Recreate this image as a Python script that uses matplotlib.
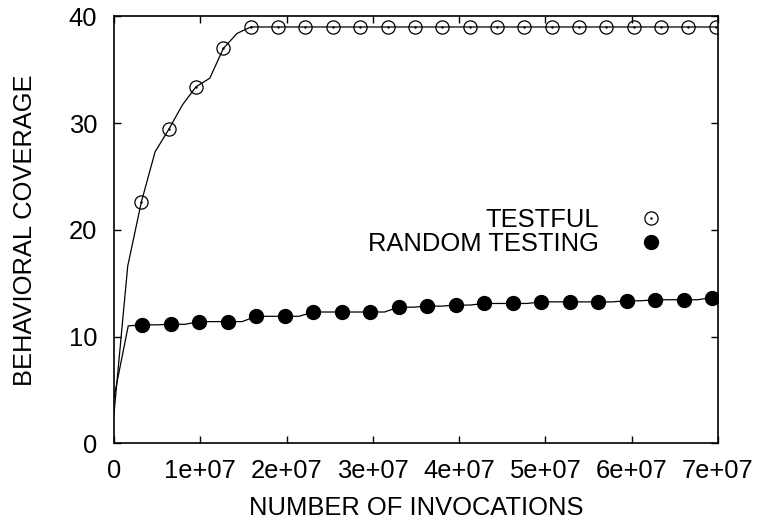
import matplotlib
matplotlib.use("Agg")
import matplotlib.pyplot as plt
from matplotlib.lines import Line2D
from matplotlib.legend_handler import HandlerTuple

plt.rcParams['font.family'] = ['Liberation Sans', 'DejaVu Sans']

# invocations, in millions
testful_x = [0, 1.59, 3.17, 4.76, 6.34, 7.93, 9.51, 11.10, 12.68, 14.27,
             15.85, 17.44, 19.02, 20.61, 22.19, 23.78, 25.36, 26.95, 28.53, 30.12,
             31.70, 33.29, 34.87, 36.46, 38.04, 39.63, 41.21, 42.80, 44.38, 45.97,
             47.55, 49.14, 50.72, 52.31, 53.89, 55.48, 57.06, 58.65, 60.23, 61.82,
             63.40, 64.99, 66.57, 68.16, 69.74]
testful_y = [2.8, 16.6, 22.6, 27.3, 29.4, 31.7, 33.4, 34.2, 37.0, 38.4,
             39.0, 39.0, 39.0, 39.0, 39.0, 39.0, 39.0, 39.0, 39.0, 39.0,
             39.0, 39.0, 39.0, 39.0, 39.0, 39.0, 39.0, 39.0, 39.0, 39.0,
             39.0, 39.0, 39.0, 39.0, 39.0, 39.0, 39.0, 39.0, 39.0, 39.0,
             39.0, 39.0, 39.0, 39.0, 39.0]

random_x = [0, 1.65, 3.30, 4.95, 6.60, 8.25, 9.90, 11.55, 13.20, 14.85,
            16.50, 18.15, 19.80, 21.45, 23.10, 24.75, 26.40, 28.05, 29.70, 31.35,
            33.00, 34.65, 36.30, 37.95, 39.60, 41.25, 42.90, 44.55, 46.20, 47.85,
            49.50, 51.15, 52.80, 54.45, 56.10, 57.75, 59.40, 61.05, 62.70, 64.35,
            66.00, 67.65, 69.30]
random_y = [4.3, 11.0, 11.1, 11.1, 11.15, 11.15, 11.4, 11.4, 11.4, 11.4,
            11.9, 11.9, 11.9, 11.9, 12.3, 12.3, 12.3, 12.3, 12.3, 12.3,
            12.75, 12.75, 12.85, 12.85, 12.95, 12.95, 13.1, 13.1, 13.1, 13.1,
            13.25, 13.25, 13.25, 13.25, 13.25, 13.25, 13.35, 13.35, 13.45, 13.45,
            13.45, 13.45, 13.65]

x_ticks = [0, 10, 20, 30, 40, 50, 60, 70]
x_tick_labels = ["0", "1e+07", "2e+07", "3e+07", "4e+07", "5e+07", "6e+07", "7e+07"]
y_ticks = [0, 10, 20, 30, 40]

fs = 18.4

fig = plt.figure(figsize=(7.62, 5.21), dpi=100)
ax = fig.add_axes([0.1496, 0.1491, 0.7927, 0.8196])

tx = [v * 1e6 for v in testful_x]
rx = [v * 1e6 for v in random_x]

# lines with a marker on every other sample
ax.plot(tx, testful_y, color='black', lw=0.9, marker='o', ms=9.5,
        mfc='none', mec='black', mew=0.9, markevery=slice(2, None, 2))
ax.plot(tx, testful_y, ls='none', marker='.', ms=1.5, color='black',
        markevery=slice(2, None, 2))
ax.plot(rx, random_y, color='black', lw=0.9, marker='o', ms=10,
        mfc='black', mec='black', markevery=slice(2, None, 2))

ax.set_xlim(0, 7e7)
ax.set_ylim(0, 40)
ax.set_xticks([v * 1e6 for v in x_ticks])
ax.set_xticklabels(x_tick_labels)
ax.set_yticks(y_ticks)
ax.tick_params(direction='in', length=4.7, width=1, top=True, right=True,
               labelsize=fs)
ax.tick_params(axis='x', pad=11)
ax.tick_params(axis='y', pad=12)
for s in ax.spines.values():
    s.set_linewidth(1.2)

ax.set_xlabel("NUMBER OF INVOCATIONS", fontsize=fs, labelpad=10)
ax.set_ylabel("BEHAVIORAL COVERAGE", fontsize=fs, labelpad=23)

h_open = Line2D([], [], ls='none', marker='o', ms=9.5, mfc='none', mec='black', mew=0.9)
h_dot = Line2D([], [], ls='none', marker='.', ms=1.5, color='black')
h_fill = Line2D([], [], ls='none', marker='o', ms=10, mfc='black', mec='black')
ax.legend([(h_open, h_dot), h_fill], ["TESTFUL", "RANDOM TESTING"],
          handler_map={tuple: HandlerTuple(ndivide=1, pad=0)},
          loc='upper right', bbox_to_anchor=(677 / 762, 1 - 208 / 521),
          bbox_transform=fig.transFigure, frameon=False, markerfirst=False,
          fontsize=fs, handlelength=2.0, handletextpad=1.07, labelspacing=0.0,
          borderpad=0, borderaxespad=0)

fig.savefig("out.png", dpi=100)
